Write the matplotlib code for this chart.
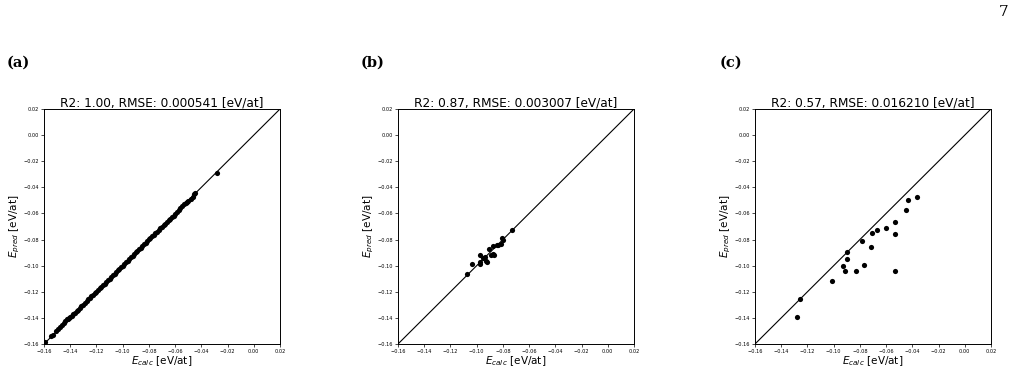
import matplotlib
matplotlib.use("Agg")
import matplotlib.pyplot as plt
import numpy as np

# Panel (a) data
a_calc = [-0.1590, -0.1548, -0.1535, -0.1505, -0.1490, -0.1478, -0.1462, -0.1450, -0.1438, -0.1425,
          -0.1418, -0.1410, -0.1402, -0.1390, -0.1378, -0.1365, -0.1352, -0.1340, -0.1328, -0.1315,
          -0.1300, -0.1288, -0.1275, -0.1262, -0.1250, -0.1238, -0.1225, -0.1212, -0.1200, -0.1188,
          -0.1175, -0.1162, -0.1150, -0.1138, -0.1125, -0.1112, -0.1100, -0.1088, -0.1075, -0.1062,
          -0.1050, -0.1038, -0.1025, -0.1012, -0.1000, -0.0988, -0.0975, -0.0962, -0.0950, -0.0938,
          -0.0925, -0.0912, -0.0900, -0.0888, -0.0875, -0.0862, -0.0850, -0.0838, -0.0825, -0.0812,
          -0.0800, -0.0788, -0.0775, -0.0762, -0.0750, -0.0738, -0.0725, -0.0712, -0.0700, -0.0688,
          -0.0675, -0.0662, -0.0650, -0.0638, -0.0625, -0.0612, -0.0600, -0.0588, -0.0572, -0.0560,
          -0.0548, -0.0535, -0.0520, -0.0510, -0.0498, -0.0480, -0.0465, -0.0455, -0.0448, -0.0280]
a_pred = [-0.1588, -0.1542, -0.1530, -0.1498, -0.1485, -0.1470, -0.1456, -0.1441, -0.1425, -0.1412,
          -0.1410, -0.1398, -0.1395, -0.1384, -0.1372, -0.1360, -0.1348, -0.1336, -0.1325, -0.1312,
          -0.1298, -0.1285, -0.1270, -0.1258, -0.1246, -0.1236, -0.1221, -0.1209, -0.1202, -0.1188,
          -0.1174, -0.1160, -0.1148, -0.1137, -0.1124, -0.1110, -0.1099, -0.1087, -0.1074, -0.1061,
          -0.1049, -0.1037, -0.1024, -0.1011, -0.0999, -0.0987, -0.0974, -0.0961, -0.0949, -0.0937,
          -0.0924, -0.0911, -0.0899, -0.0887, -0.0874, -0.0861, -0.0849, -0.0837, -0.0824, -0.0810,
          -0.0798, -0.0786, -0.0774, -0.0762, -0.0752, -0.0740, -0.0727, -0.0712, -0.0700, -0.0690,
          -0.0678, -0.0665, -0.0652, -0.0640, -0.0628, -0.0616, -0.0602, -0.0591, -0.0575, -0.0562,
          -0.0545, -0.0530, -0.0518, -0.0512, -0.0505, -0.0490, -0.0475, -0.0448, -0.0440, -0.0290]

# Panel (b) data
b_calc = [-0.1076, -0.1033, -0.0975, -0.0975, -0.0975, -0.0949, -0.0929, -0.0919, -0.0904, -0.0893,
          -0.0878, -0.0870, -0.0874, -0.0847, -0.0836, -0.0817, -0.0805, -0.0797, -0.0733, -0.0940]
b_pred = [-0.1066, -0.0984, -0.0916, -0.0974, -0.0987, -0.0943, -0.0962, -0.0972, -0.0874, -0.0916,
          -0.0851, -0.0916, -0.0910, -0.0841, -0.0844, -0.0834, -0.0785, -0.0805, -0.0724, -0.0935]

# Panel (c) data
c_calc = [-0.1280, -0.1255, -0.1016, -0.0926, -0.0916, -0.0898, -0.0898, -0.0832, -0.0783, -0.0765,
          -0.0716, -0.0706, -0.0673, -0.0604, -0.0533, -0.0533, -0.0533, -0.0451, -0.0434, -0.0367]
c_pred = [-0.1390, -0.1258, -0.1117, -0.1003, -0.1041, -0.0898, -0.0946, -0.1041, -0.0811, -0.0995,
          -0.0855, -0.0750, -0.0724, -0.0708, -0.0665, -0.0755, -0.1041, -0.0571, -0.0497, -0.0476]

titles = ["R2: 1.00, RMSE: 0.000541 [eV/at]",
          "R2: 0.87, RMSE: 0.003007 [eV/at]",
          "R2: 0.57, RMSE: 0.016210 [eV/at]"]
panel_labels = ["(a)", "(b)", "(c)"]
ticks = [-0.16, -0.14, -0.12, -0.10, -0.08, -0.06, -0.04, -0.02, 0.00, 0.02]
lims = [-0.16, 0.02]

W, H = 1027, 372
fig = plt.figure(figsize=(W / 100, H / 100), dpi=100)

lefts = [44, 398, 755]
label_x = [7, 361, 720]
datasets = [(a_calc, a_pred), (b_calc, b_pred), (c_calc, c_pred)]

for i, (xs, ys) in enumerate(datasets):
    ax = fig.add_axes([lefts[i] / W, 1 - 344 / H, 236 / W, 235 / H])
    ax.plot(lims, lims, color='black', lw=0.8, zorder=1)
    ax.scatter(xs, ys, s=14, color='black', zorder=2, linewidths=0)
    ax.set_xlim(lims)
    ax.set_ylim(lims)
    ax.set_xticks(ticks)
    ax.set_yticks(ticks)
    ax.set_xticklabels([f"{t:.2f}".replace('-', '\u2212') for t in ticks])
    ax.set_yticklabels([f"{t:.2f}".replace('-', '\u2212') for t in ticks])
    ax.tick_params(labelsize=3.6, length=2, width=0.5, pad=1.5)
    for sp in ax.spines.values():
        sp.set_linewidth(0.7)
    ax.set_title(titles[i], fontsize=8.7, pad=2)
    ax.set_xlabel(r'$E_{calc}$ [eV/at]', fontsize=7.5, labelpad=0)
    ax.set_ylabel(r'$E_{pred}$ [eV/at]', fontsize=7.5, labelpad=1)
    fig.text(label_x[i] / W, 1 - 63 / H, panel_labels[i], family='DejaVu Serif',
             weight='bold', fontsize=10.5, ha='left', va='center')

fig.text(1004 / W, 1 - 12 / H, '7', family='DejaVu Serif', fontsize=11, ha='center', va='center')

fig.savefig('out.png', dpi=100)
